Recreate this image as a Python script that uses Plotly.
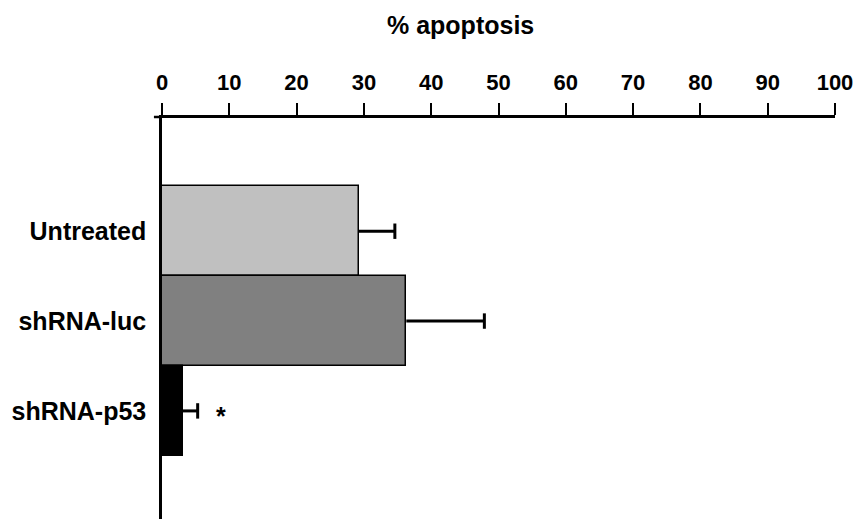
import plotly.graph_objects as go

categories = ["Untreated", "shRNA-luc", "shRNA-p53"]
apoptosis = [29.2, 36.3, 3.1]
err_plus = [5.4, 11.6, 2.2]
bar_colors = ["#C0C0C0", "#808080", "#000000"]
x_ticks = [0, 10, 20, 30, 40, 50, 60, 70, 80, 90, 100]
sig_label = "*"
sig_category = "shRNA-p53"
sig_x = 8.8

FONT = "Liberation Sans, Arial, sans-serif"

fig = go.Figure()
fig.add_trace(go.Bar(
    y=categories, x=apoptosis, orientation="h",
    marker=dict(color=bar_colors, line=dict(color="#000000", width=1.5)),
    showlegend=False, hoverinfo="x+y",
))

# one-sided (upper) error bars: stem from bar end to bar end + error, cap at tip
ex, ey = [], []
for c, v, e in zip(categories, apoptosis, err_plus):
    ex += [v, v + e, None]
    ey += [c, c, None]
fig.add_trace(go.Scatter(x=ex, y=ey, mode="lines",
                         line=dict(color="#000", width=3),
                         showlegend=False, hoverinfo="skip"))
fig.add_trace(go.Scatter(x=[v + e for v, e in zip(apoptosis, err_plus)],
                         y=categories, mode="markers",
                         marker=dict(symbol="line-ns", size=11,
                                     line=dict(color="#000", width=3)),
                         showlegend=False, hoverinfo="skip"))

fig.add_annotation(x=sig_x, y=sig_category, text="<b>" + sig_label + "</b>",
                   showarrow=False, font=dict(family=FONT, size=25, color="#000"),
                   xanchor="center", yanchor="middle", yshift=-5)

fig.add_annotation(x=0.443, y=1, xref="paper", yref="paper",
                   text="<b>% apoptosis</b>", showarrow=False,
                   font=dict(family=FONT, size=25, color="#000"),
                   xanchor="center", yanchor="middle", yshift=93)

# small overhang of the top axis line left of the y-axis
fig.add_shape(type="line", xref="paper", x0=-0.012, x1=0, yref="paper",
              ysizemode="pixel", yanchor=1, y0=1, y1=1,
              line=dict(color="#000", width=2.5))

fig.update_layout(
    width=864, height=519,
    margin=dict(l=162, r=29, t=118, b=0, pad=0),
    plot_bgcolor="white", paper_bgcolor="white",
    bargap=0,
    font=dict(family=FONT, color="#000"),
    xaxis=dict(side="top", range=[0, 100], tickvals=x_ticks,
               ticktext=["<b>%d</b>" % v for v in x_ticks],
               tickfont=dict(family=FONT, size=22, color="#000"),
               ticks="outside", ticklen=12, tickwidth=2, tickcolor="#000",
               showline=True, linecolor="#000", linewidth=2.5,
               showgrid=False, zeroline=False, ticklabelstandoff=4),
    yaxis=dict(categoryorder="array", categoryarray=categories,
               range=[3.203, -1.26],
               tickvals=categories,
               ticktext=["<b>%s</b>" % c for c in categories],
               tickfont=dict(family=FONT, size=25, color="#000"),
               ticks="", showline=True, linecolor="#000", linewidth=2.5,
               showgrid=False, zeroline=False, ticklabelstandoff=8),
)

fig.write_html("out.html")
